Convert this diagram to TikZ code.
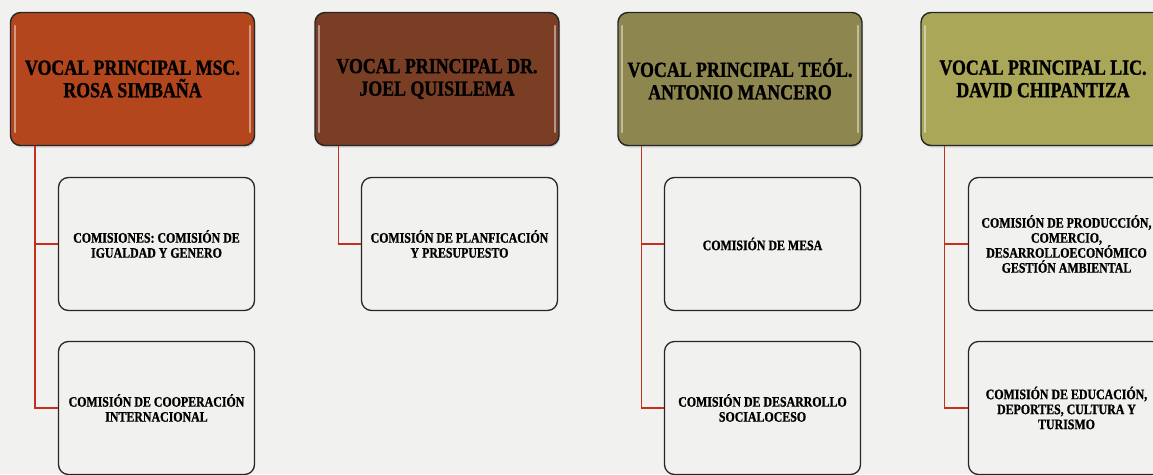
\documentclass[tikz,border=0pt]{standalone}
\usepackage{fontspec}
\setmainfont{Liberation Serif}
\newfontfamily\hdfont[FakeStretch=0.83,FakeBold=1.2]{Liberation Serif Bold}
\newfontfamily\chfont[FakeStretch=0.82,FakeBold=1.0]{Liberation Serif Bold}
\usetikzlibrary{shadows}
\definecolor{bg}{HTML}{F1F1EF}
\definecolor{hA}{HTML}{B3461C}
\definecolor{hB}{HTML}{7A3E25}
\definecolor{hC}{HTML}{8D874F}
\definecolor{hD}{HTML}{AAA758}
\definecolor{conncol}{HTML}{C4301E}
\tikzset{
  headbox/.style={draw=black!85, line width=1.4pt, rounded corners=10pt,
    minimum width=244pt, minimum height=133pt, inner sep=2pt, align=center,
    text=black, font=\fontsize{21.5}{22.5}\hdfont,
    drop shadow={opacity=0.25, shadow xshift=1pt, shadow yshift=-2pt}},
  childbox/.style={draw=black!85, line width=1.3pt, rounded corners=10pt, fill=bg,
    minimum width=196pt, minimum height=133pt, inner sep=2pt, align=center,
    text=black, font=\fontsize{14.5}{15}\chfont},
  conn/.style={draw=conncol, line width=1.5pt},
  hl/.style={draw=white, opacity=0.45, line width=2pt, line cap=round}
}
\begin{document}
\begin{tikzpicture}[x=1pt,y=-1pt]
\clip (0,0) rectangle (1153,474);
\fill[bg] (0,0) rectangle (1153,474);
% header boxes
\node[headbox, fill=hA] (h1) at (132.5,79) {VOCAL PRINCIPAL MSC.\\ROSA SIMBAÑA};
\node[headbox, fill=hB] (h2) at (437,79) {VOCAL PRINCIPAL DR.\\JOEL QUISILEMA};
\node[headbox, fill=hC] (h3) at (740,79) {VOCAL PRINCIPAL TEÓL.\\ANTONIO MANCERO};
\node[headbox, fill=hD] (h4) at (1043,79) {VOCAL PRINCIPAL LIC.\\DAVID CHIPANTIZA};
% highlights
\foreach \h in {h1,h2,h3,h4}{
  \draw[hl] ([shift={(5,14)}]\h.north west) -- ([shift={(5,-14)}]\h.south west);
  \draw[hl] ([shift={(-5,14)}]\h.north east) -- ([shift={(-5,-14)}]\h.south east);
}
% child boxes
\node[childbox] (c11) at (156.5,244) {COMISIONES: COMISIÓN DE\\IGUALDAD Y GENERO};
\node[childbox] (c12) at (156.5,408) {COMISIÓN DE COOPERACIÓN\\INTERNACIONAL};
\node[childbox] (c21) at (459.5,244) {COMISIÓN DE PLANFICACIÓN\\Y PRESUPUESTO};
\node[childbox] (c31) at (762.5,244) {COMISIÓN DE MESA};
\node[childbox] (c32) at (762.5,408) {COMISIÓN DE DESARROLLO\\SOCIALOCESO};
\node[childbox] (c41) at (1066.5,244) {COMISIÓN DE PRODUCCIÓN,\\COMERCIO,\\DESARROLLOECONÓMICO\\GESTIÓN AMBIENTAL};
\node[childbox] (c42) at (1066.5,408) {COMISIÓN DE EDUCACIÓN,\\DEPORTES, CULTURA Y\\TURISMO};
% connectors
\coordinate (s1) at ([xshift=25pt]h1.south west);
\coordinate (s2) at ([xshift=24pt]h2.south west);
\coordinate (s3) at ([xshift=24pt]h3.south west);
\coordinate (s4) at ([xshift=24pt]h4.south west);
\draw[conn] (s1) |- (c11.west);
\draw[conn] (s1) |- (c12.west);
\draw[conn] (s2) |- (c21.west);
\draw[conn] (s3) |- (c31.west);
\draw[conn] (s3) |- (c32.west);
\draw[conn] (s4) |- (c41.west);
\draw[conn] (s4) |- (c42.west);
\end{tikzpicture}
\end{document}
